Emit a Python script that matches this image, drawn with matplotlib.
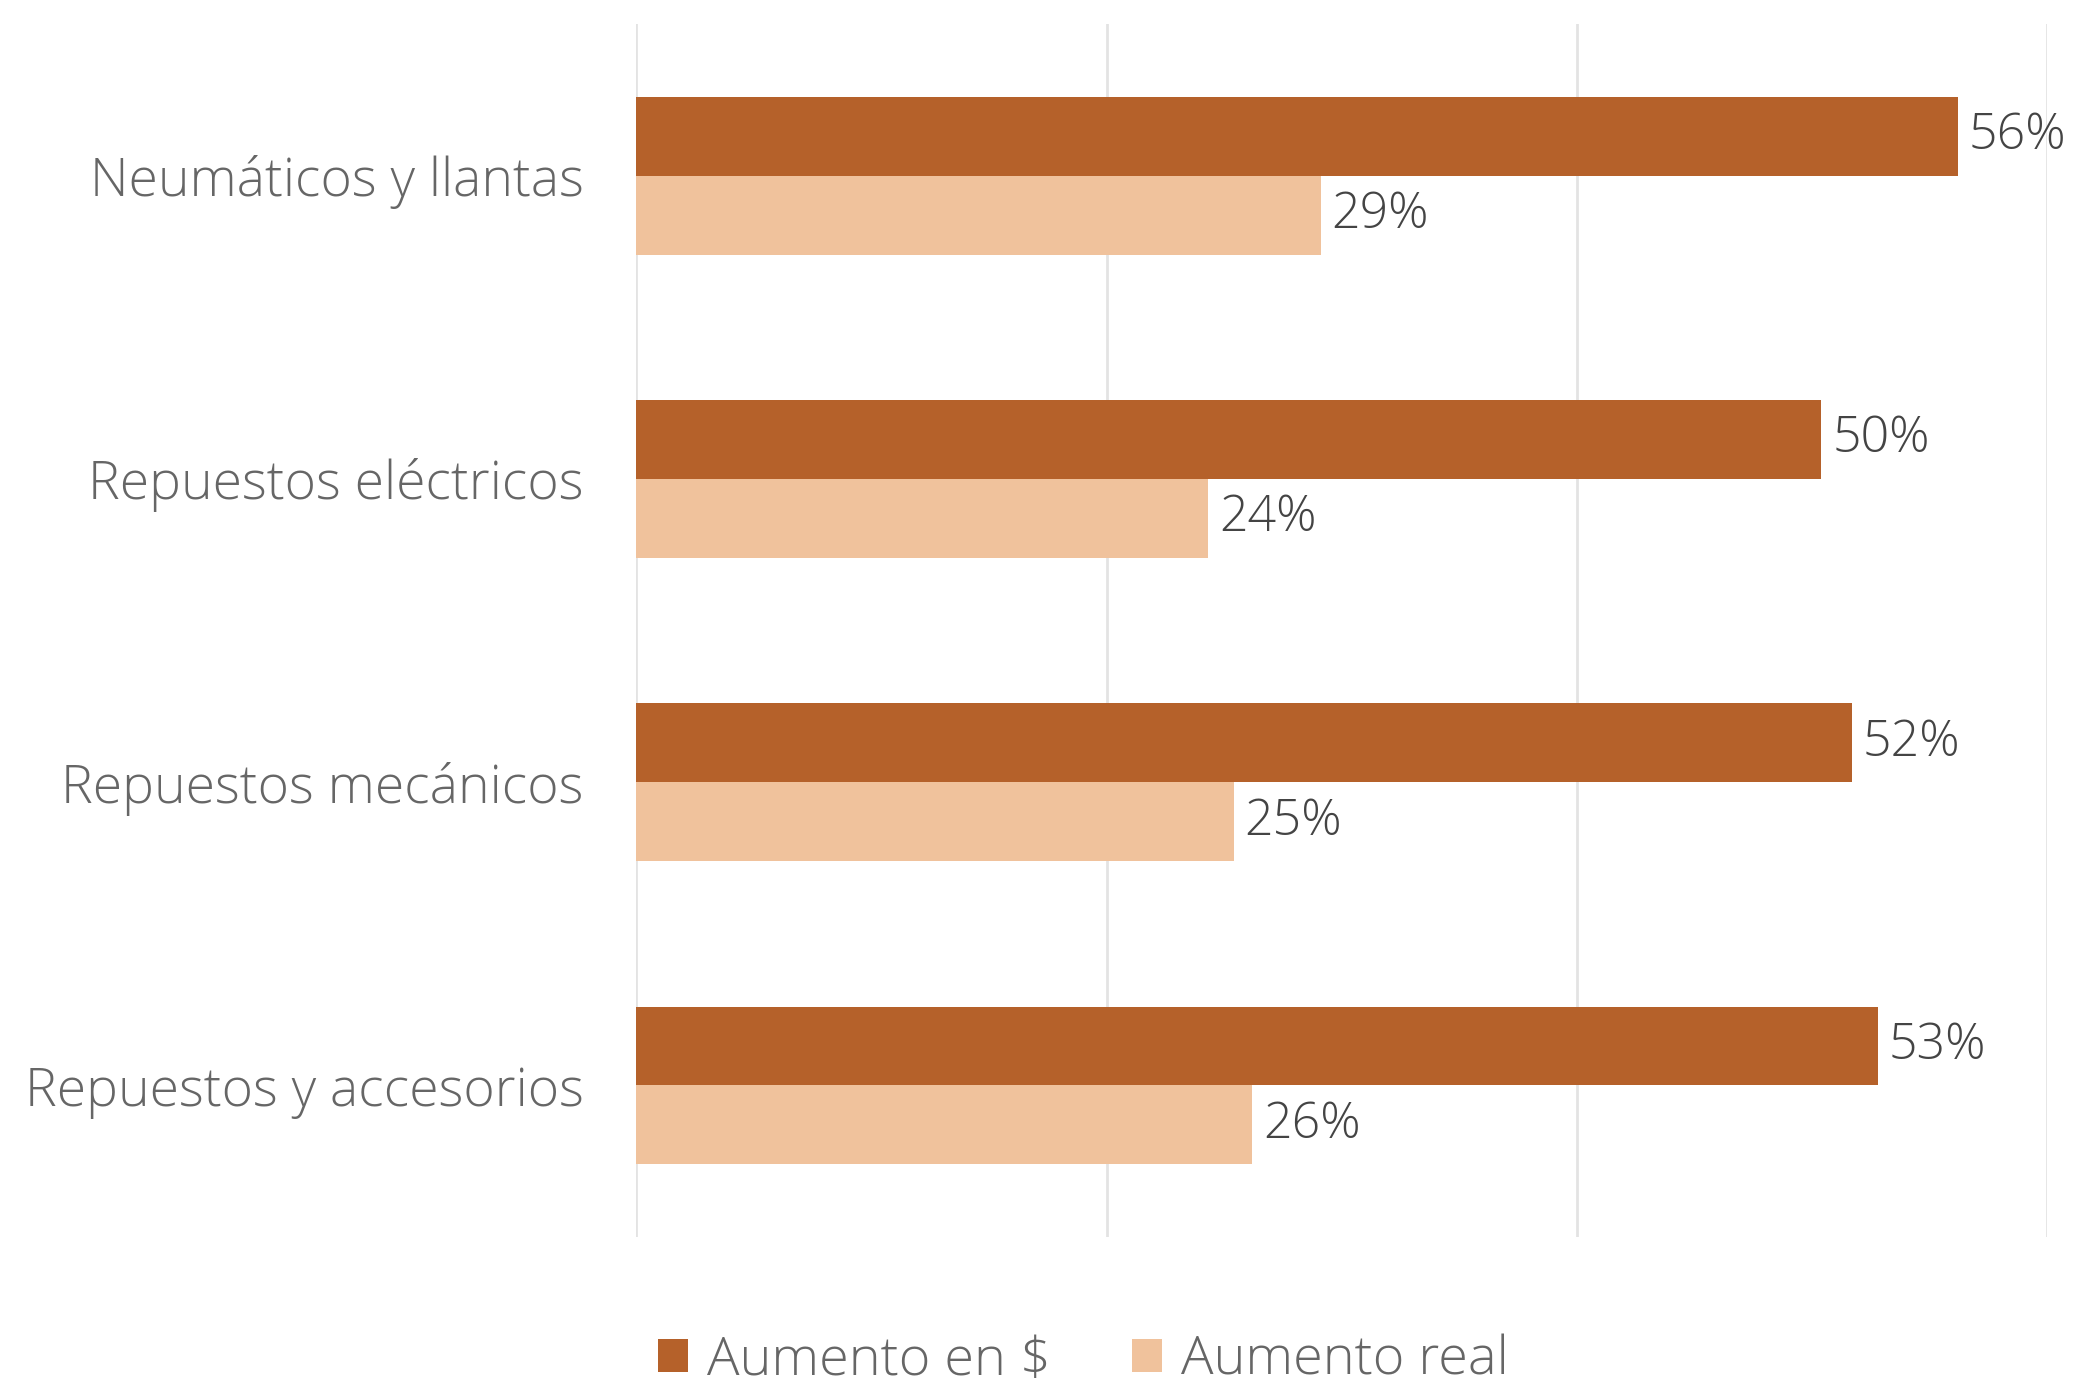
"""Aumento de precios por rubro: nominal vs real."""
import matplotlib
matplotlib.use("Agg")
import matplotlib.pyplot as plt
import numpy as np

categories = [
    "Neumáticos y llantas",
    "Repuestos eléctricos",
    "Repuestos mecánicos",
    "Repuestos y accesorios",
]
aumento_nominal = [56.2, 50.4, 51.7, 52.8]
aumento_real = [29.1, 24.3, 25.4, 26.2]
series_labels = ["Aumento en $", "Aumento real"]

COLOR_DARK = "#B5612A"
COLOR_LIGHT = "#F0C29C"
COLOR_LABEL = "#666666"
COLOR_VALUE = "#444444"

plt.rcParams["font.family"] = ["Open Sans", "DejaVu Sans"]

fig = plt.figure(figsize=(20.75, 13.89), dpi=100)
ax = fig.add_axes([0.3067, 0.1094, 0.6798, 0.8733])

y = np.arange(len(categories))
h = 0.26

bars1 = ax.barh(y - h / 2, aumento_nominal, height=h, color=COLOR_DARK,
                label=series_labels[0], zorder=3)
bars2 = ax.barh(y + h / 2, aumento_real, height=h, color=COLOR_LIGHT,
                label=series_labels[1], zorder=3)

for bars, vals in ((bars1, aumento_nominal), (bars2, aumento_real)):
    for b, v in zip(bars, vals):
        ax.annotate(f"{v:.0f}%", xy=(b.get_width(), b.get_y() + b.get_height() / 2),
                    xytext=(8, 0), textcoords="offset points",
                    ha="left", va="center", fontsize=36, color=COLOR_VALUE,
                    fontweight="light")

ax.set_xlim(0, 60)
ax.set_ylim(3.5, -0.5)
ax.set_xticks([0, 20, 40, 60])
ax.set_xticklabels([])
ax.set_yticks(y)
ax.set_yticklabels(categories, fontsize=38.5, color=COLOR_LABEL, fontweight="light")
ax.tick_params(axis="both", length=0, pad=38)
ax.grid(axis="x", color="#E3E3E3", linewidth=2, zorder=0)
for s in ax.spines.values():
    s.set_visible(False)

fig.legend(loc="center", bbox_to_anchor=(0.522, 0.02), ncol=2, frameon=False,
           handlelength=0.55, handleheight=0.55, handletextpad=0.35,
           columnspacing=1.5, labelcolor=COLOR_LABEL,
           prop={"weight": "light", "size": 39})

fig.savefig("out.png", dpi=100)
